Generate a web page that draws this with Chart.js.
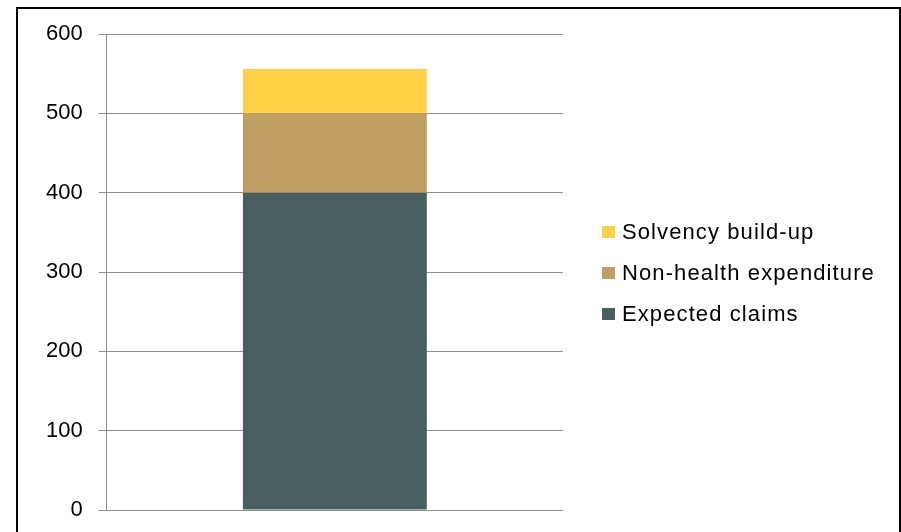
<!DOCTYPE html>
<html>
<head>
<meta charset="utf-8">
<script src="https://cdn.jsdelivr.net/npm/chart.js@4/dist/chart.umd.min.js"></script>
<style>
  html, body { margin: 0; padding: 0; background: #fff; }
  body { width: 901px; height: 532px; position: relative; overflow: hidden; font-family: "Liberation Sans", Arial, sans-serif; }
  #chart { position: absolute; left: 0; top: 0; }
  .frame {
    position: absolute; left: 16px; top: 7px; width: 881px; height: 600px;
    border: 2px solid #000; border-bottom: none;
  }
  #legend { position: absolute; left: 602px; top: 211px; margin: 0; padding: 0; list-style: none; }
  #legend li { display: flex; align-items: center; height: 41.3px; }
  #legend .swatch { width: 13px; height: 12px; margin-right: 7px; }
  #legend .text { font-size: 22px; letter-spacing: 1.1px; color: #000; white-space: nowrap; }
</style>
</head>
<body>
<canvas id="chart" width="901" height="532"></canvas>
<div class="frame"></div>
<ul id="legend"></ul>
<script>
const categories = [""];
const expectedClaims = [400];
const nonHealthExpenditure = [100];
const solvencyBuildUp = [56];
const yTicks = [0, 100, 200, 300, 400, 500, 600];

const COLORS = {
  claims: "#485e5f",
  nonHealth: "#bf9e63",
  solvency: "#ffd147",
  grid: "#8f8f8f",
};

const chart = new Chart(document.getElementById("chart"), {
  type: "bar",
  data: {
    labels: categories,
    datasets: [
      { label: "Expected claims", data: expectedClaims, backgroundColor: COLORS.claims },
      { label: "Non-health expenditure", data: nonHealthExpenditure, backgroundColor: COLORS.nonHealth },
      { label: "Solvency build-up", data: solvencyBuildUp, backgroundColor: COLORS.solvency },
    ],
  },
  options: {
    responsive: false,
    animation: false,
    layout: { padding: { left: 30, right: 338, top: 34, bottom: 22 } },
    datasets: { bar: { categoryPercentage: 0.403, barPercentage: 1 } },
    plugins: {
      legend: { display: false },
      tooltip: { enabled: false },
    },
    scales: {
      x: { stacked: true, display: false },
      y: {
        stacked: true,
        min: yTicks[0],
        max: yTicks[yTicks.length - 1],
        afterBuildTicks: (scale) => {
          scale.ticks = yTicks.map((v) => ({ value: v }));
        },
        grid: { color: COLORS.grid, lineWidth: 1, tickLength: 8 },
        border: { display: true, color: COLORS.grid, width: 1 },
        ticks: {
          padding: 16,
          color: "#000",
          // small lineHeight keeps the end labels from padding the plot
          font: { family: "'Liberation Sans', Arial, sans-serif", size: 22, lineHeight: 0.5 },
        },
      },
    },
  },
});

// legend lists the stack top to bottom
const legendEl = document.getElementById("legend");
chart.data.datasets.slice().reverse().forEach((ds) => {
  const li = document.createElement("li");
  const sw = document.createElement("span");
  sw.className = "swatch";
  sw.style.background = ds.backgroundColor;
  const tx = document.createElement("span");
  tx.className = "text";
  tx.textContent = ds.label;
  li.appendChild(sw);
  li.appendChild(tx);
  legendEl.appendChild(li);
});
</script>
</body>
</html>
